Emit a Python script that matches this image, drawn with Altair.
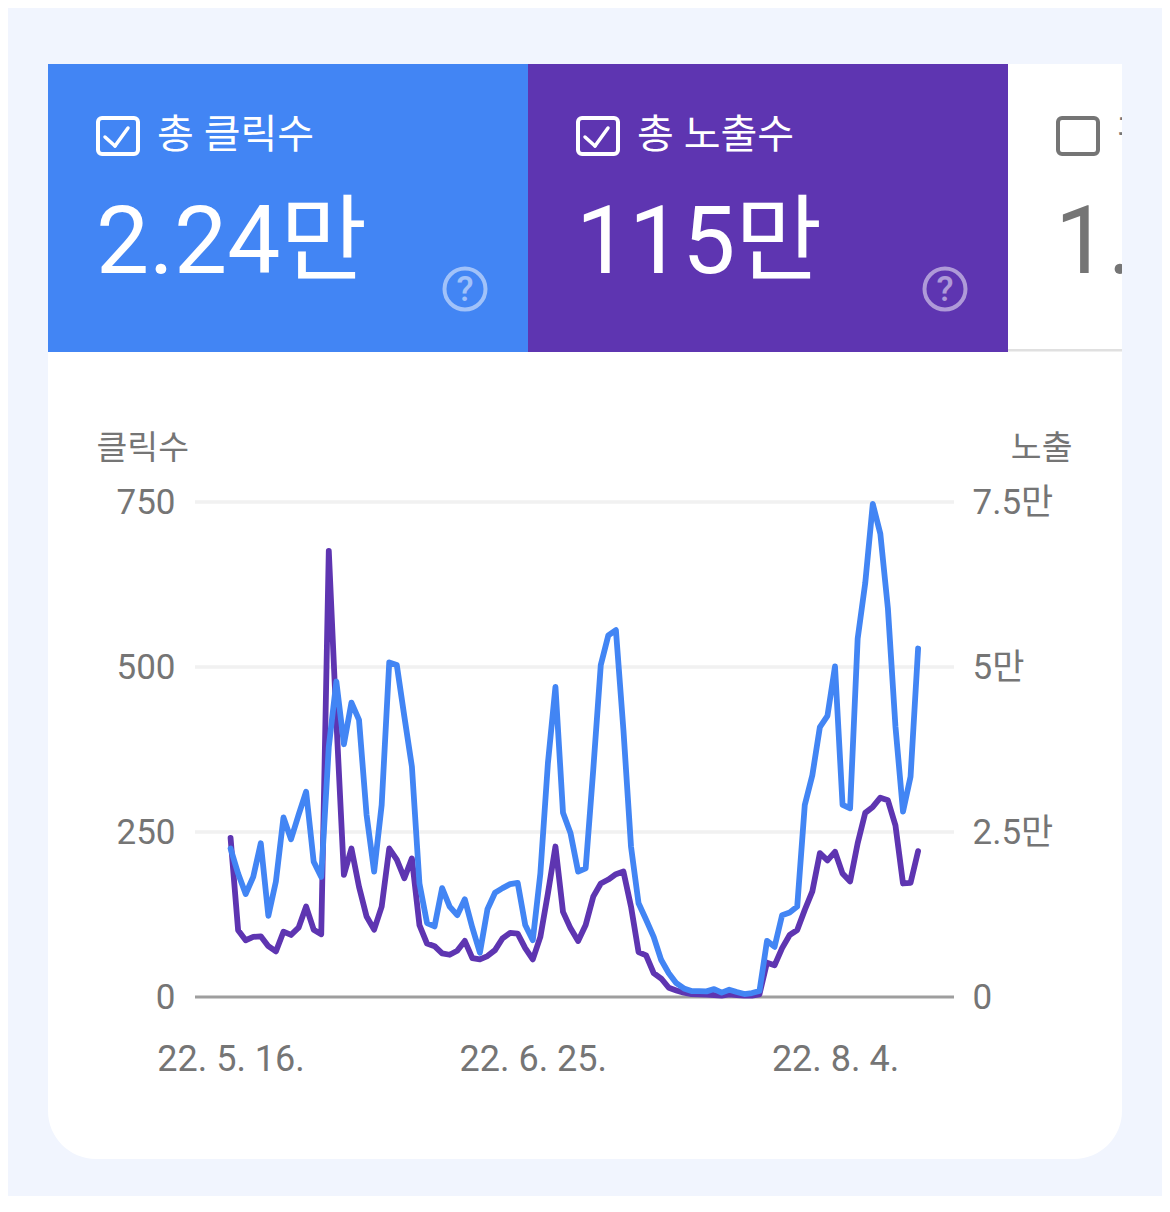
import altair as alt
import pandas as pd

# values, one per day from 22. 5. 16.
clicks = [225, 187, 156, 182, 233, 123, 175, 272, 239, 276, 311, 205, 182, 379, 478, 383, 446, 420, 276, 190,
          291, 507, 503, 425, 349, 172, 112, 107, 165, 137, 124, 148, 105, 67, 133, 158, 165, 171, 173, 109,
          86, 187, 354, 470, 279, 248, 190, 195, 344, 503, 548, 556, 404, 228, 142, 117, 91, 56, 36, 21,
          13, 9, 9, 8.5, 12, 6.6, 11, 7.6, 4.5, 6, 9, 85, 76, 124, 128, 137, 291, 336, 409, 426,
          501, 291, 286, 543, 627, 747, 702, 589, 410, 281, 334, 528]
impressions = [24100, 10100, 8600, 9100, 9200, 7700, 6900, 9900, 9400, 10500, 13700, 10200, 9500, 67600, 42000,
               18500, 22500, 16700, 12200, 10200, 13700, 22500, 20800, 18000, 21000, 10900, 8100, 7700, 6600,
               6400, 7000, 8500, 5900, 5700, 6200, 7100, 8900, 9700, 9600, 7400, 5700, 9100, 15700, 22800,
               12900, 10400, 8500, 10900, 15200, 17200, 17800, 18600, 19000, 13700, 6800, 6300, 3600, 2800,
               1400, 1000, 650, 450, 400, 350, 300, 200, 400, 300, 200, 200, 400, 5200, 4800, 7400, 9400,
               10150, 13200, 16000, 21800, 20700, 22000, 18700, 17500, 23300, 27900, 28800, 30200, 29800,
               26000, 17200, 17300, 22100]
dates = pd.date_range("2022-05-16", periods=len(clicks)).strftime("%Y-%m-%dT00:00:00").tolist()

click_ticks = [0, 250, 500, 750]
impression_ticks = [0, 25000, 50000, 75000]
date_ticks = ["2022-05-16T00:00:00", "2022-06-25T00:00:00", "2022-08-04T00:00:00"]
x_domain = ["2022-05-11T07:00:00", "2022-08-19T18:00:00"]

BLUE = "#4285f4"
PURPLE = "#5e35b1"
GREY = "#757575"
PAGE = "#f1f5fe"
FONT = "Roboto, 'Noto Sans CJK KR', sans-serif"

LEFT, TOP, W, H = 195, 502, 759, 495  # plot area on the page


def px(x):
    return alt.value(x - LEFT)


def py(y):
    return alt.value(y - TOP)


one = alt.Data(values=[{"a": 0}])


def box(x0, x1, y0, y1, **kw):
    return alt.Chart(one).mark_rect(**kw).encode(x=px(x0), x2=px(x1), y=py(y0), y2=py(y1))


def label(text, x, y, size, color, align="left", **kw):
    return alt.Chart(one).mark_text(text=text, fontSize=size, color=color, align=align, baseline="middle",
                                    font=FONT, **kw).encode(x=px(x), y=py(y))


def checkbox(x0, x1, color, checked=True):
    parts = [box(x0 + 2, x1 - 2, 118, 154, fillOpacity=0, stroke=color, strokeWidth=4, cornerRadius=4)]
    if checked:
        cx = x0 + 9
        for a, b, c, d in [(cx, cx + 10, 137, 146), (cx + 10, cx + 23, 146, 128)]:
            parts.append(alt.Chart(one).mark_rule(color=color, strokeWidth=3.5, strokeCap="round").encode(
                x=px(a), x2=px(b), y=py(c), y2=py(d)))
    return parts


def help_icon(x):
    return [
        alt.Chart(one).mark_point(filled=False, size=1681, color="white", strokeWidth=4, opacity=0.5).encode(
            x=px(x), y=py(289)),
        label("?", x, 290, 35, "white", align="center", opacity=0.5, fontWeight=500),
    ]


df = pd.DataFrame({"date": dates, "clicks": clicks, "impressions": impressions})
x_scale = alt.Scale(domain=x_domain)

grid = alt.Chart(pd.DataFrame({"v": click_ticks[1:]})).mark_rule(color="#f1f1f1", strokeWidth=3.3).encode(
    y=alt.Y("v:Q", scale=alt.Scale(domain=[0, 750]), axis=None), x=alt.value(0), x2=alt.value(W))
baseline = alt.Chart(pd.DataFrame({"v": click_ticks[:1]})).mark_rule(color="#9e9e9e", strokeWidth=3).encode(
    y=alt.Y("v:Q", scale=alt.Scale(domain=[0, 750]), axis=None), x=alt.value(0), x2=alt.value(W))

axis_style = dict(domain=False, ticks=False, grid=False, zindex=1, labelFont=FONT, labelFontSize=35,
                  labelColor=GREY, titleFont=FONT, titleFontSize=33.5, titleColor=GREY, titleFontWeight=400,
                  titleAngle=0, titleBaseline="middle", titleY=-54)
x_axis = alt.Axis(
    values=date_ticks, labelExpr="timeFormat(datum.value, '%y. %-m. %-d.')", title=None, domain=False, ticks=False,
    grid=False, zindex=1, labelFont=FONT, labelFontSize=36, labelColor=GREY, labelPadding=45, labelOverlap=False)

line_impressions = alt.Chart(df).mark_line(color=PURPLE, strokeWidth=5.8, strokeJoin="round", strokeCap="round").encode(
    x=alt.X("date:T", scale=x_scale, axis=x_axis),
    y=alt.Y("impressions:Q", scale=alt.Scale(domain=[0, 75000]), axis=alt.Axis(
        orient="right", values=impression_ticks, title="노출", titleAlign="right", titleX=118, labelPadding=18,
        labelExpr="datum.value == 0 ? '0' : datum.value / 10000 + '만'", **axis_style)),
)
line_clicks = alt.Chart(df).mark_line(color=BLUE, strokeWidth=5.8, strokeJoin="round", strokeCap="round").encode(
    x=alt.X("date:T", scale=x_scale, axis=x_axis),
    y=alt.Y("clicks:Q", scale=alt.Scale(domain=[0, 750]), axis=alt.Axis(
        orient="left", values=click_ticks, title="클릭수", titleAlign="left", titleX=-99, labelPadding=20, **axis_style)),
)

layers = [
    box(48, 1122, 64, 1159, color="white", cornerRadiusBottomLeft=48, cornerRadiusBottomRight=48),
    box(1008, 1122, 349, 351.5, color="#e0e0e0"),
    box(48, 528, 64, 352, color=BLUE),
    box(528, 1008, 64, 352, color=PURPLE),
    *checkbox(96, 140, "white"),
    label("총 클릭수", 157, 136, 40, "white"),
    label("2.24만", 96, 245, 94.5, "white"),
    *help_icon(465),
    *checkbox(576, 620, "white"),
    label("총 노출수", 637, 136, 40, "white"),
    label("115만", 576, 245, 94.5, "white"),
    *help_icon(945),
    *checkbox(1056, 1100, GREY, checked=False),
    label("평균 CTR", 1117, 136, 40, GREY),
    label("1.9%", 1055, 245, 94.5, GREY),
    box(1122, 1162, 60, 360, color=PAGE),
    grid,
    baseline,
    line_impressions,
    line_clicks,
]

# canvas stops short of the window so the page does not overflow and get rescaled
chart = alt.layer(*layers).resolve_scale(y="independent").properties(
    width=W,
    height=H,
    background=PAGE,
    autosize=alt.AutoSizeParams(type="none"),
    padding={"left": LEFT - 8, "top": TOP - 8, "right": 1162 - LEFT - W, "bottom": 1196 - TOP - H},
).configure_view(stroke=None)

chart.save("out.html", embed_options={"renderer": "svg", "actions": False})
